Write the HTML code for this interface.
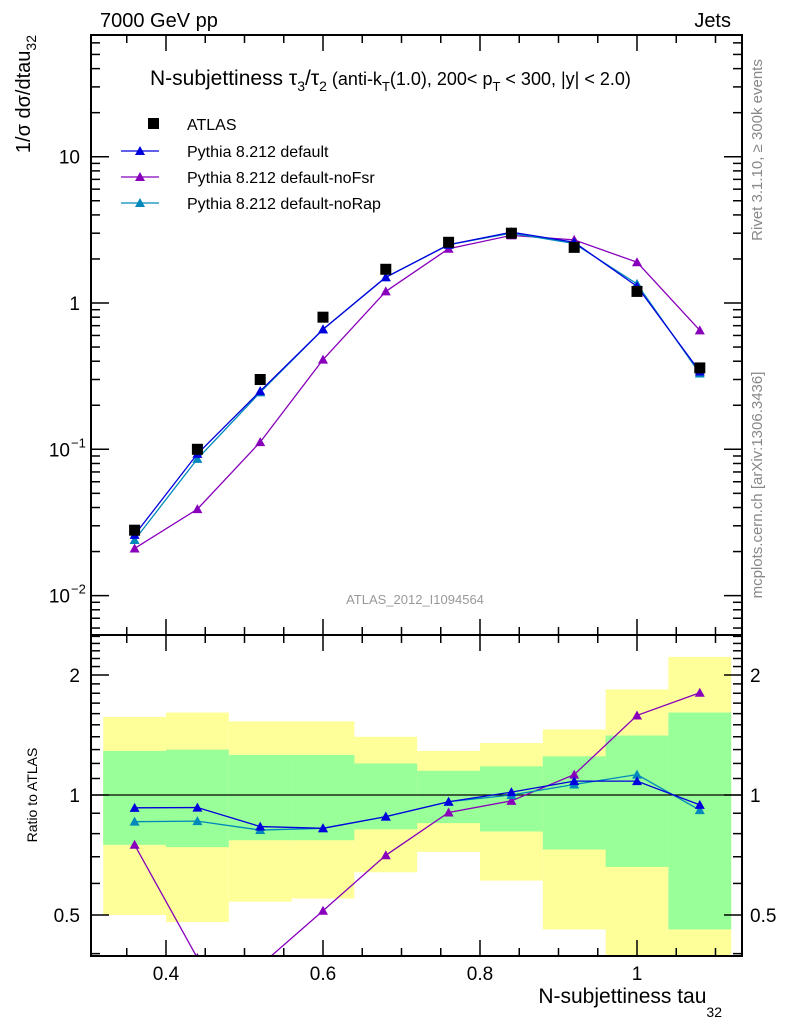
<!DOCTYPE html>
<html><head><meta charset="utf-8"><style>
html,body{margin:0;padding:0;background:#fff;}
svg{display:block;font-family:"Liberation Sans",sans-serif;}
</style></head><body>
<svg id="chart" width="786" height="1024" viewBox="0 0 786 1024"></svg>
<script>
const binCenters=[0.36,0.44,0.52,0.60,0.68,0.76,0.84,0.92,1.00,1.08];
const atlasVals=[0.028,0.100,0.300,0.800,1.70,2.60,3.00,2.40,1.20,0.36];
const defaultVals=[0.026,0.093,0.25,0.66,1.50,2.50,3.05,2.60,1.30,0.34];
const noFsrVals=[0.021,0.039,0.112,0.41,1.20,2.35,2.90,2.70,1.90,0.65];
const noRapVals=[0.024,0.086,0.245,0.66,1.50,2.50,3.00,2.55,1.35,0.33];
const greenHi=[1.29,1.30,1.26,1.26,1.20,1.15,1.18,1.25,1.41,1.61];
const greenLo=[0.75,0.74,0.77,0.77,0.82,0.85,0.81,0.73,0.66,0.46];
const yellowHi=[1.57,1.61,1.53,1.53,1.40,1.29,1.35,1.46,1.84,2.22];
const yellowLo=[0.50,0.48,0.54,0.55,0.64,0.72,0.61,0.46,0.30,0.30];
const xTickLabels=["0.4","0.6","0.8","1"];
const xTickVals=[0.4,0.6,0.8,1.0];
const binWidth=0.08;

const NS="http://www.w3.org/2000/svg";
const svg=document.getElementById('chart');
function el(t,a,p){const e=document.createElementNS(NS,t);for(const k in a)e.setAttribute(k,a[k]);(p||svg).appendChild(e);return e;}
const L=91,R=742,T=35,MB=635,RB=956;
const xs=v=>166+(v-0.4)*785;
const ym=v=>303-Math.log10(v)*146.3;
const yr=v=>795-Math.log2(v)*120;

const clipR=el('clipPath',{id:'cr'});el('rect',{x:L,y:MB,width:R-L,height:RB-MB},clipR);
const clipM=el('clipPath',{id:'cm'});el('rect',{x:L,y:T,width:R-L,height:MB-T},clipM);
const bands=el('g',{'clip-path':'url(#cr)'});


binCenters.forEach((c,i)=>{
  const x0=xs(c-binWidth/2),x1=xs(c+binWidth/2);
  const r1=el('rect',{x:x0,y:yr(yellowHi[i]),width:x1-x0,height:yr(yellowLo[i])-yr(yellowHi[i]),fill:'#ffff99'},bands);
  
  
});
binCenters.forEach((c,i)=>{
  const x0=xs(c-binWidth/2),x1=xs(c+binWidth/2);
  const r2=el('rect',{x:x0,y:yr(greenHi[i]),width:x1-x0,height:yr(greenLo[i])-yr(greenHi[i]),fill:'#99ff99'},bands);
  
  
});
el('line',{x1:L,x2:R,y1:yr(1),y2:yr(1),stroke:'#000','stroke-width':1.2});

function tri(g,x,y,c,s){el('polygon',{points:`${x},${y-s} ${x-s},${y+s*0.8} ${x+s},${y+s*0.8}`,fill:c},g);}
function series(vals,color,name,yf,clip){
  const g=el('g',{'clip-path':clip});
  
  
  el('polyline',{points:vals.map((v,i)=>xs(binCenters[i])+','+yf(v)).join(' '),fill:'none',stroke:color,'stroke-width':1.3},g);
  vals.forEach((v,i)=>tri(g,xs(binCenters[i]),yf(v),color,5));
}
series(noFsrVals,'#8800bb','nofsr-line',ym,'url(#cm)');
series(noRapVals,'#0088bb','norap-line',ym,'url(#cm)');
series(defaultVals,'#0000dd','default-line',ym,'url(#cm)');
const ag=el('g',{});


atlasVals.forEach((v,i)=>{el('rect',{x:xs(binCenters[i])-5.5,y:ym(v)-5.5,width:11,height:11,fill:'#000'},ag);});
series(noFsrVals.map((v,i)=>v/atlasVals[i]),'#8800bb','nofsr-ratio',yr,'url(#cr)');
series(noRapVals.map((v,i)=>v/atlasVals[i]),'#0088bb','norap-ratio',yr,'url(#cr)');
series(defaultVals.map((v,i)=>v/atlasVals[i]),'#0000dd','default-ratio',yr,'url(#cr)');

el('rect',{x:L,y:T,width:R-L,height:MB-T,fill:'none',stroke:'#000','stroke-width':2});
el('rect',{x:L,y:MB,width:R-L,height:RB-MB,fill:'none',stroke:'#000','stroke-width':2});
for(let k=6;k<=22;k++){const v=k*0.05;const x=xs(v);if(x<L||x>R)continue;
  const maj=k%4===0;const len=maj?16:8;
  [[T,1],[MB,-1],[MB,1],[RB,-1]].forEach(([y,d])=>el('line',{x1:x,x2:x,y1:y,y2:y+d*len,stroke:'#000','stroke-width':1.5}));}
xTickVals.forEach((v,i)=>{const t=el('text',{x:xs(v),y:980,'font-size':19,'text-anchor':'middle'});t.textContent=xTickLabels[i];
  
  });
for(let d=-3;d<=1;d++)for(let m=1;m<10;m++){const v=m*Math.pow(10,d);const y=ym(v);if(y<T||y>MB)continue;
  const len=m===1?18:9;el('line',{x1:L,x2:L+len,y1:y,y2:y,stroke:'#000','stroke-width':1.5});el('line',{x1:R,x2:R-len,y1:y,y2:y,stroke:'#000','stroke-width':1.5});}
[['10',10,''],['1',1,''],['10',0.1,'−1'],['10',0.01,'−2']].forEach(([b,v,e])=>{
  const t=el('text',{x:e?70:80,y:ym(v)+7,'font-size':19,'text-anchor':'end'});t.textContent=b;
  
  
  if(e){const s=el('text',{x:71,y:ym(v)-2,'font-size':13});s.textContent=e;}});
for(let k=4;k<=25;k++){const v=k/10;const y=yr(v);if(y<MB||y>RB)continue;
  const maj=(k===5||k===10||k===20);const len=maj?18:9;
  el('line',{x1:L,x2:L+len,y1:y,y2:y,stroke:'#000','stroke-width':1.5});el('line',{x1:R,x2:R-len,y1:y,y2:y,stroke:'#000','stroke-width':1.5});}
[['2',2],['1',1],['0.5',0.5]].forEach(([s,v])=>{
  const t=el('text',{x:80,y:yr(v)+7,'font-size':19,'text-anchor':'end'});t.textContent=s;
  
  
  const t2=el('text',{x:750,y:yr(v)+7,'font-size':19});t2.textContent=s;
  
  });

function txt(x,y,s,attrs,name){const t=el('text',Object.assign({x:x,y:y},attrs));t.innerHTML=s;
  
  
  return t;}
txt(100,27,'7000 GeV pp',{'font-size':20},'energy-label');
txt(731,27,'Jets',{'font-size':20,'text-anchor':'end'},'process-label');
txt(150,85,'N-subjettiness τ<tspan font-size="14" dy="6">3</tspan><tspan dy="-6">/τ</tspan><tspan font-size="14" dy="6">2</tspan><tspan dy="-6" font-size="18"> (anti-k</tspan><tspan font-size="13" dy="6">T</tspan><tspan dy="-6" font-size="18">(1.0), 200&lt; p</tspan><tspan font-size="13" dy="6">T</tspan><tspan dy="-6" font-size="18"> &lt; 300, |y| &lt; 2.0)</tspan>',{'font-size':21},'plot-title');
const lg=el('g',{});


el('rect',{x:148,y:118,width:11,height:11,fill:'#000'},lg);
txt(187,130,'ATLAS',{'font-size':16},'legend-atlas');
[['#0000dd','Pythia 8.212 default',151],['#8800bb','Pythia 8.212 default-noFsr',177],['#0088bb','Pythia 8.212 default-noRap',203]].forEach(([c,s,y])=>{
  el('line',{x1:121,x2:159,y1:y,y2:y,stroke:c,'stroke-width':1.3},lg);tri(lg,140,y,c,5);
  txt(187,y+6,s,{'font-size':16},'legend-entry');});
txt(415,604,'ATLAS_2012_I1094564',{'font-size':13,fill:'#999','text-anchor':'middle'},'analysis-id');
txt(0,0,'1/σ dσ/dtau<tspan font-size="14" dy="6">32</tspan>',{'font-size':20,transform:'translate(30,35) rotate(-90)','text-anchor':'end'},'y-axis-title');
txt(0,0,'Ratio to ATLAS',{'font-size':14,transform:'translate(37,795) rotate(-90)','text-anchor':'middle'},'ratio-axis-title');
txt(0,0,'Rivet 3.1.10, ≥ 300k events',{'font-size':15,fill:'#888',transform:'translate(762,150) rotate(-90)','text-anchor':'middle'},'rivet-label');
txt(0,0,'mcplots.cern.ch [arXiv:1306.3436]',{'font-size':15,fill:'#888',transform:'translate(762,485) rotate(-90)','text-anchor':'middle'},'mcplots-label');
txt(722,1003,'N-subjettiness tau<tspan font-size="14" dy="14">32</tspan>',{'font-size':21,'text-anchor':'end'},'x-axis-title');
</script>
</body></html>
